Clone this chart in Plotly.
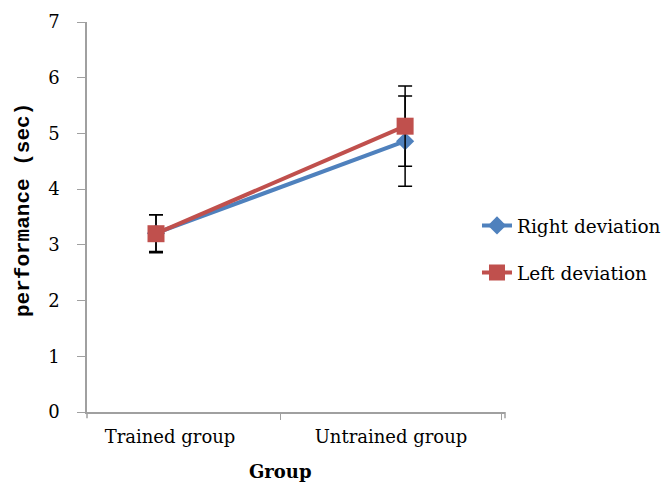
import plotly.graph_objects as go

groups = ["Trained group", "Untrained group"]
right_dev = [3.21, 4.86]
right_err = [0.33, 0.81]
left_dev = [3.20, 5.13]
left_err = [0.34, 0.72]
y_ticks = [0, 1, 2, 3, 4, 5, 6, 7]

blue = "#4F81BD"
red = "#C0504D"
serif = "DejaVu Serif, Liberation Serif, serif"
axis_gray = "#A0A0A0"

fig = go.Figure()
# carrier for the category tick labels
fig.add_trace(go.Scatter(x=groups, y=[None, None], mode="markers",
                         showlegend=False, hoverinfo="skip", xaxis="x", yaxis="y"))
fig.add_trace(go.Scatter(
    x=groups, y=right_dev, name="Right deviation", mode="lines+markers",
    line=dict(color=blue, width=4),
    marker=dict(symbol="diamond", size=14, color=blue),
    error_y=dict(type="data", array=right_err, color="black", thickness=1.5, width=7),
    legendgroup="a", xaxis="x2", yaxis="y",
))
fig.add_trace(go.Scatter(
    x=groups, y=left_dev, name="Left deviation", mode="lines+markers",
    line=dict(color=red, width=4),
    marker=dict(symbol="square", size=17, color=red),
    error_y=dict(type="data", array=left_err, color="black", thickness=1.5, width=7),
    legendgroup="b", xaxis="x2", yaxis="y",
))

fig.update_layout(
    width=662, height=474,
    margin=dict(l=79, r=165, t=14, b=70, autoexpand=False),
    paper_bgcolor="white", plot_bgcolor="white",
    font=dict(family=serif, size=18, color="black"),
    showlegend=True,
    legend=dict(x=0.933, y=0.526, xanchor="left", yanchor="top",
                font=dict(family=serif, size=18.5, color="black"),
                tracegroupgap=20, bgcolor="rgba(0,0,0,0)"),
    xaxis=dict(
        type="category", categoryarray=groups, range=[-0.3756, 1.516],
        showline=True, linecolor=axis_gray, linewidth=1.5,
        ticks="outside", tickson="boundaries", ticklen=6, tickcolor=axis_gray,
        showgrid=False, zeroline=False, ticklabelstandoff=8,
        tickfont=dict(family=serif, size=18),
    ),
    xaxis2=dict(
        type="category", categoryarray=groups, range=[-0.277, 1.401],
        overlaying="x", visible=False, showgrid=False, zeroline=False,
    ),
    yaxis=dict(
        range=[0, 7], tickvals=y_ticks,
        showline=True, linecolor=axis_gray, linewidth=1.5,
        ticks="outside", ticklen=8, tickcolor=axis_gray,
        showgrid=False, zeroline=False, ticklabelstandoff=14,
        tickfont=dict(family=serif, size=18),
    ),
    annotations=[
        dict(text="<b>performance (sec)</b>", textangle=-90,
             xref="paper", yref="paper", x=-63/418, y=(404 - 202) / 390,
             xanchor="center", yanchor="middle", showarrow=False,
             font=dict(family="Liberation Mono, Courier New, monospace", size=21)),
        dict(text="<b>Group</b>",
             xref="paper", yref="paper", x=(272 - 79) / 418, y=-(464 - 404) / 390,
             xanchor="center", yanchor="middle", showarrow=False,
             font=dict(family=serif, size=18)),
    ],
)
# small ticks at x-axis ends
fig.add_shape(type="line", xref="paper", yref="paper", x0=0, x1=0, y0=0, y1=-0.016,
              line=dict(color=axis_gray, width=1.5))
fig.add_shape(type="line", xref="paper", yref="paper", x0=1, x1=1, y0=0, y1=-0.016,
              line=dict(color=axis_gray, width=1.5))

fig.write_html("out.html")
